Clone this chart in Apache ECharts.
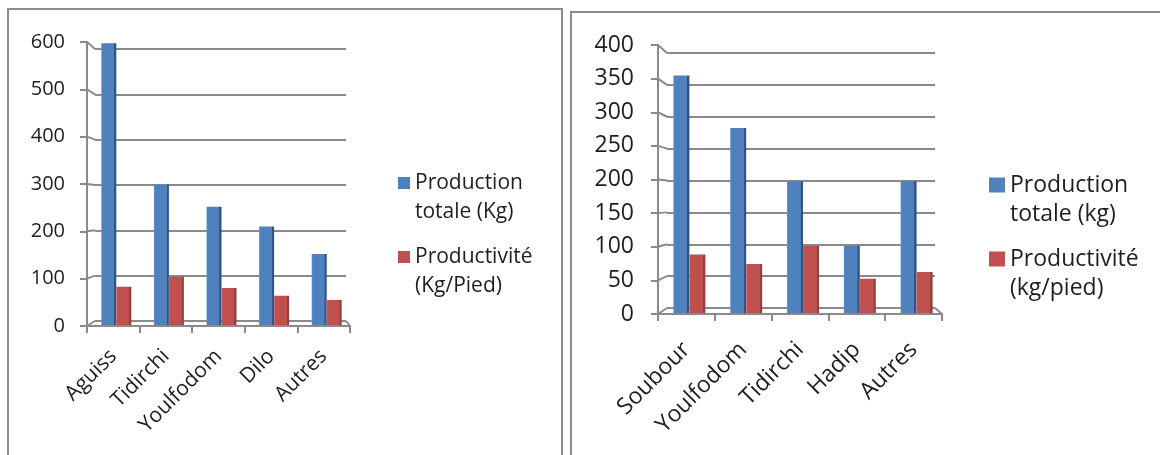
<!DOCTYPE html>
<html>
<head>
<meta charset="utf-8">
<script src="https://cdn.jsdelivr.net/npm/echarts@6/dist/echarts.min.js"></script>
<style>
  html, body { margin: 0; padding: 0; background: #fff; }
  #chart { width: 1160px; height: 455px; }
</style>
</head>
<body>
<div id="chart"></div>
<script>
// left panel data
const leftCategories = ['Aguiss', 'Tidirchi', 'Youlfodom', 'Dilo', 'Autres'];
const leftProduction = [595, 297, 250, 208, 150];
const leftProductivity = [81, 102, 78, 62, 53];
const leftSeriesNames = ['Production totale (Kg)', 'Productivité (Kg/Pied)'];
const leftLegendLabels = ['Production\ntotale (Kg)', 'Productivité\n(Kg/Pied)'];
const leftScale = { min: 0, max: 600, interval: 100 };

// right panel data
const rightCategories = ['Soubour', 'Youlfodom', 'Tidirchi', 'Hadip', 'Autres'];
const rightProduction = [353, 275, 196, 100, 196];
const rightProductivity = [87, 73, 100, 51, 61];
const rightSeriesNames = ['Production totale (kg)', 'Productivité (kg/pied)'];
const rightLegendLabels = ['Production\ntotale (kg)', 'Productivité\n(kg/pied)'];
const rightScale = { min: 0, max: 400, interval: 50 };

const FONT = '"Open Sans", sans-serif';
const TEXT = '#1e1e1e';
const LINE = '#8a8a8a';
const BLUE = '#4f81bd';
const RED = '#c0504d';

function barFill(light, base, dark) {
  return new echarts.graphic.LinearGradient(0, 0, 1, 0, [
    { offset: 0, color: light },
    { offset: 0.08, color: base },
    { offset: 0.84, color: base },
    { offset: 0.87, color: dark },
    { offset: 1, color: dark }
  ]);
}

const panels = [
  {
    categories: leftCategories, values: [leftProduction, leftProductivity],
    names: leftSeriesNames, labels: leftLegendLabels, scale: leftScale,
    wall: { left: 95, top: 49, width: 251, height: 272 },
    main: { left: 87, top: 42, width: 263, height: 284 },
    bars: { left: 90, top: 41, width: 263, height: 284 },
    yFont: 20, xFont: 21, yMargin: 22, xMargin: 27, barWidth: 15,
    legend: { left: 398, icon: [12, 12], font: 21, lineH: 29, centers: [183, 257] }
  },
  {
    categories: rightCategories, values: [rightProduction, rightProductivity],
    names: rightSeriesNames, labels: rightLegendLabels, scale: rightScale,
    wall: { left: 667, top: 53, width: 268, height: 255 },
    main: { left: 658, top: 45, width: 284, height: 269 },
    bars: { left: 661, top: 44, width: 284, height: 269 },
    yFont: 23, xFont: 23, yMargin: 24, xMargin: 32, barWidth: 16,
    legend: { left: 989, icon: [16, 15], font: 23, lineH: 29, centers: [185, 259] }
  }
];

const option = {
  animation: false,
  backgroundColor: '#fff',
  grid: [], xAxis: [], yAxis: [], series: [], legend: []
};

panels.forEach((p, i) => {
  const g = i * 3;
  option.grid.push(p.wall, p.main, p.bars);

  // back wall with gridlines
  option.xAxis.push({ gridIndex: g, type: 'category', data: p.categories, show: false });
  option.yAxis.push({
    gridIndex: g, type: 'value', ...p.scale,
    axisLine: { show: false }, axisTick: { show: false }, axisLabel: { show: false },
    splitLine: { show: true, lineStyle: { color: LINE, width: 2 } }
  });

  // front axes with labels
  option.xAxis.push({
    gridIndex: g + 1, type: 'category', data: p.categories,
    axisLine: { show: true, lineStyle: { color: LINE, width: 2 } },
    axisTick: { show: true, length: 7, lineStyle: { color: LINE, width: 2 } },
    axisLabel: {
      interval: 0, rotate: 45, margin: p.xMargin,
      fontSize: p.xFont, fontFamily: FONT, color: TEXT
    }
  });
  option.yAxis.push({
    gridIndex: g + 1, type: 'value', ...p.scale,
    axisLine: { show: true, lineStyle: { color: LINE, width: 2 } },
    axisTick: { show: true, length: 7, lineStyle: { color: LINE, width: 2 } },
    axisLabel: { margin: p.yMargin, fontSize: p.yFont, fontFamily: FONT, color: TEXT },
    splitLine: { show: false }
  });

  // bars
  option.xAxis.push({ gridIndex: g + 2, type: 'category', data: p.categories, show: false });
  option.yAxis.push({ gridIndex: g + 2, type: 'value', ...p.scale, show: false, splitLine: { show: false } });

  const fills = [barFill('#6a95cb', BLUE, '#2f5587'), barFill('#cc6b68', RED, '#96403d')];
  const flat = [BLUE, RED];
  p.values.forEach((vals, k) => {
    option.series.push({
      type: 'bar', name: p.names[k], data: vals,
      xAxisIndex: g + 2, yAxisIndex: g + 2,
      barWidth: p.barWidth, barGap: '0%',
      itemStyle: { color: fills[k] }
    });
    // a blank first line keeps the marker level with the first text line
    option.legend.push({
      data: [{ name: p.names[k], itemStyle: { color: flat[k] } }],
      left: p.legend.left, top: p.legend.centers[k] - 1.5 * p.legend.lineH,
      orient: 'vertical', padding: 0, icon: 'rect',
      itemWidth: p.legend.icon[0], itemHeight: p.legend.icon[1],
      formatter: () => ' \n' + p.labels[k],
      textStyle: {
        fontSize: p.legend.font, fontFamily: FONT, color: TEXT,
        lineHeight: p.legend.lineH
      }
    });
  });
});

const chart = echarts.init(document.getElementById('chart'), null, { renderer: 'canvas' });
chart.setOption(option);

// panel frames and the little 3D connectors between the front axis and the back wall
const graphics = [
  { type: 'rect', shape: { x: 8, y: 9, width: 554, height: 470 }, style: { fill: 'none', stroke: '#8c8c8c', lineWidth: 2 } },
  { type: 'rect', shape: { x: 571, y: 12, width: 620, height: 470 }, style: { fill: 'none', stroke: '#8c8c8c', lineWidth: 2 } }
];
panels.forEach((p, i) => {
  const g = i * 3;
  for (let v = p.scale.min; v <= p.scale.max; v += p.scale.interval) {
    const yFront = chart.convertToPixel({ yAxisIndex: g + 1 }, v);
    const yBack = chart.convertToPixel({ yAxisIndex: g }, v);
    graphics.push({
      type: 'line', z: 5,
      shape: { x1: p.main.left, y1: yFront, x2: p.wall.left, y2: yBack },
      style: { stroke: LINE, lineWidth: 2 }
    });
  }
  const y0Front = chart.convertToPixel({ yAxisIndex: g + 1 }, p.scale.min);
  const y0Back = chart.convertToPixel({ yAxisIndex: g }, p.scale.min);
  graphics.push({
    type: 'line', z: 5,
    shape: { x1: p.wall.left + p.wall.width, y1: y0Back, x2: p.main.left + p.main.width, y2: y0Front },
    style: { stroke: LINE, lineWidth: 2 }
  });
});
chart.setOption({ graphic: graphics });
</script>
</body>
</html>
